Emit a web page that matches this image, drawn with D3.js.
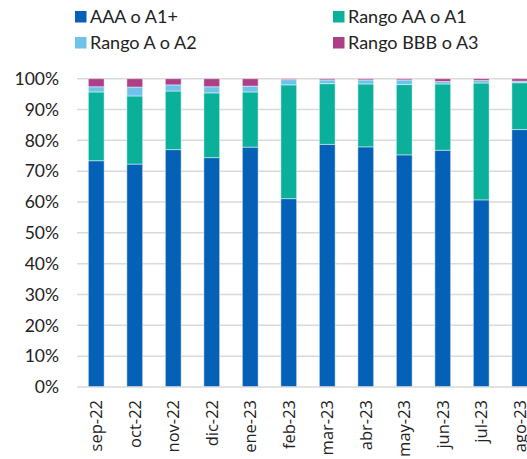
<!DOCTYPE html>
<html><head><meta charset="utf-8">
<script src="https://cdn.jsdelivr.net/npm/d3@7"></script>
<style>body{margin:0;background:#fff;overflow:hidden}</style>
</head><body>
<svg id="c" width="527" height="459"></svg>
<script>
const categories = ["sep-22","oct-22","nov-22","dic-22","ene-23","feb-23","mar-23","abr-23","may-23","jun-23","jul-23","ago-23"];
const seriesNames = ["AAA o A1+","Rango AA o A1","Rango A o A2","Rango BBB o A3"];
const aaa = [73.4,72.3,77.0,74.4,77.8,61.1,78.7,77.9,75.3,76.8,60.7,83.5];
const aa  = [22.3,22.1,19.0,21.0,17.9,36.9,19.7,20.4,22.8,21.5,37.9,15.2];
const a   = [1.7,2.9,2.0,2.0,1.9,1.7,1.2,1.3,1.5,0.8,0.8,0.5];
const bbb = [2.6,2.7,2.0,2.6,2.4,0.3,0.4,0.4,0.4,0.9,0.6,0.8];
const yTicks = [0,10,20,30,40,50,60,70,80,90,100];
const colors = ["#0561b8","#0bb09a","#6ec3ea","#ac3f86"];

const svg = d3.select("#c");
const x = d3.scaleBand().domain(categories).range([77,539]).paddingInner(0.59).paddingOuter(0.295);
const y = d3.scaleLinear().domain([0,100]).range([387,78.7]);

// gridlines
svg.append("g").selectAll("line").data(yTicks.filter(t=>t>0)).join("line")
  .attr("x1",77).attr("x2",527).attr("y1",d=>y(d)).attr("y2",d=>y(d))
  .attr("stroke","#d9d9d9").attr("stroke-width",1.5);

// y labels
svg.append("g").selectAll("text").data(yTicks).join("text")
  .attr("x",59).attr("y",d=>y(d)).attr("dy","0.36em")
  .attr("text-anchor","end").attr("font-family","Lato").attr("font-size",17.5).attr("fill","#222")
  .text(d=>d+"%");

const rows = categories.map((c,i)=>({cat:c,"AAA o A1+":aaa[i],"Rango AA o A1":aa[i],"Rango A o A2":a[i],"Rango BBB o A3":bbb[i]}));
const stacked = d3.stack().keys(seriesNames)(rows);

svg.append("g").selectAll("g").data(stacked).join("g")
  .attr("fill",(d,i)=>colors[i])
  .selectAll("rect").data(d=>d).join("rect")
  .attr("x",d=>x(d.data.cat)).attr("width",x.bandwidth())
  .attr("y",d=>y(d[1])).attr("height",d=>y(d[0])-y(d[1]))
  .attr("stroke","rgba(255,255,255,0.45)").attr("stroke-width",1);

// x axis line
svg.append("line").attr("x1",77).attr("x2",527).attr("y1",y(0)).attr("y2",y(0))
  .attr("stroke","#d9d9d9").attr("stroke-width",1.5);

// x labels
svg.append("g").selectAll("text").data(categories).join("text")
  .attr("transform",d=>`translate(${x(d)+x.bandwidth()/2},400) rotate(-90)`)
  .attr("text-anchor","end").attr("dy","0.36em")
  .attr("font-family","Open Sans").attr("font-size",16.5).attr("fill","#222")
  .text(d=>d);

// legend
const legPos = [[75,11],[333,11],[75,37],[333,37]];
const leg = svg.append("g").selectAll("g").data(seriesNames).join("g")
  .attr("transform",(d,i)=>`translate(${legPos[i][0]},${legPos[i][1]})`);
leg.append("rect").attr("width",11.5).attr("height",11.5).attr("fill",(d,i)=>colors[i]);
leg.append("text").attr("x",15).attr("y",11.8).attr("font-family","Lato").attr("font-size",18).attr("fill","#222").text(d=>d);
</script>
</body></html>
